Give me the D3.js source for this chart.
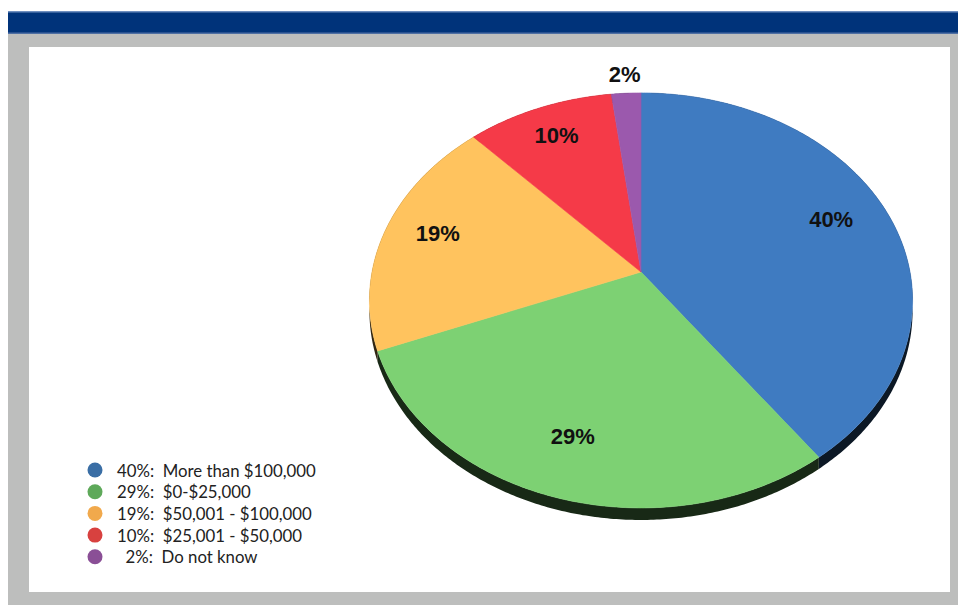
<!DOCTYPE html>
<html>
<head>
<meta charset="utf-8">
<script src="https://cdn.jsdelivr.net/npm/d3@7"></script>
<style>
  html, body { margin: 0; padding: 0; background: #ffffff; }
  svg { display: block; }
</style>
</head>
<body>
<script>
// Household income brackets, share of respondents
const categories = ["More than $100,000", "$0-$25,000", "$50,001 - $100,000", "$25,001 - $50,000", "Do not know"];
const values = [40, 29, 19, 10, 2];
const sliceColors = ["#3f7bc1", "#7dd173", "#ffc35e", "#f53a48", "#9b59ad"];
const legendColors = ["#3a6ea5", "#5ea95a", "#f1a94c", "#d8413f", "#8a4f96"];

const W = 958, H = 605;
const svg = d3.select("body").append("svg").attr("width", W).attr("height", H);

// Frame: navy header band, gray mat, white panel
svg.append("rect").attr("x", 8).attr("y", 11).attr("width", W - 8).attr("height", 23).attr("fill", "#00337a");
svg.append("rect").attr("x", 8).attr("y", 11).attr("width", W - 8).attr("height", 1.5).attr("fill", "#6f8fbf");
svg.append("rect").attr("x", 8).attr("y", 32.5).attr("width", W - 8).attr("height", 1.5).attr("fill", "#4e6fa3");
svg.append("rect").attr("x", 8).attr("y", 34).attr("width", W - 8).attr("height", H - 34).attr("fill", "#bdbebd");
svg.append("rect").attr("x", 29).attr("y", 47).attr("width", 921).attr("height", 545).attr("fill", "#ffffff");

// Tilted pie: slice angles from d3.pie, rim points through a perspective projection
const cx = 641, cy = 272, A = 269, B = 203.6, k = 0.137, depth = 10.4;
function proj(theta, r, drop) {
  const u = r * Math.sin(theta), v = r * Math.cos(theta);
  const d = 1 + k * v;
  return [cx + A * u / d, cy - B * v / d + (drop || 0) / d];
}

const pie = d3.pie().sort(null).value(d => d.value);
const data = categories.map((c, i) => ({ name: c, value: values[i], color: sliceColors[i] }));
const arcs = pie(data);
const line = d3.line().curve(d3.curveLinear);

function rimPoints(a0, a1, drop) {
  const n = Math.max(2, Math.ceil((a1 - a0) / 0.01));
  return d3.range(n + 1).map(i => proj(a0 + (a1 - a0) * i / n, 1, drop));
}

// Side wall of the pie
const side = svg.append("g");
arcs.forEach(a => {
  const top = rimPoints(a.startAngle, a.endAngle, 0);
  const bottom = rimPoints(a.startAngle, a.endAngle, depth).reverse();
  side.append("path")
    .attr("d", line(top.concat(bottom)) + "Z")
    .attr("fill", d3.color(a.data.color).darker(4.6));
});

// Top faces
const faces = svg.append("g");
arcs.forEach(a => {
  const pts = [[cx, cy]].concat(rimPoints(a.startAngle, a.endAngle, 0));
  faces.append("path")
    .attr("d", line(pts) + "Z")
    .attr("fill", a.data.color)
    .attr("stroke", a.data.color)
    .attr("stroke-width", 0.6);
});

// Percentage labels: inside the slice, or just past the rim for thin slices
const isThin = a => a.data.value < 5;
const labelPos = a => proj((a.startAngle + a.endAngle) / 2, isThin(a) ? 1.12 : 0.78);
svg.append("g").selectAll("text")
  .data(arcs)
  .join("text")
  .attr("x", a => labelPos(a)[0] - (isThin(a) ? 0 : 3))
  .attr("y", a => labelPos(a)[1] - (isThin(a) ? 0 : 5))
  .attr("text-anchor", "middle")
  .attr("dominant-baseline", "central")
  .attr("font-family", "Liberation Sans, Arial, sans-serif")
  .attr("font-weight", "bold")
  .attr("font-size", 22)
  .attr("fill", "#111")
  .text(a => a.data.value + "%");

// Legend
const legend = svg.append("g").attr("transform", "translate(95,470)");
const rows = legend.selectAll("g").data(data).join("g")
  .attr("transform", (d, i) => `translate(0,${i * 21.7})`);
rows.append("circle").attr("r", 7.5).attr("fill", (d, i) => legendColors[i]);
rows.append("text")
  .attr("x", 22)
  .attr("dominant-baseline", "central")
  .attr("font-family", "Lato, sans-serif")
  .attr("font-size", 16.8)
  .attr("fill", "#222")
  .style("white-space", "pre")
  .text(d => (d.value < 10 ? "  " : "") + d.value + "%:  " + d.name);
</script>
</body>
</html>
